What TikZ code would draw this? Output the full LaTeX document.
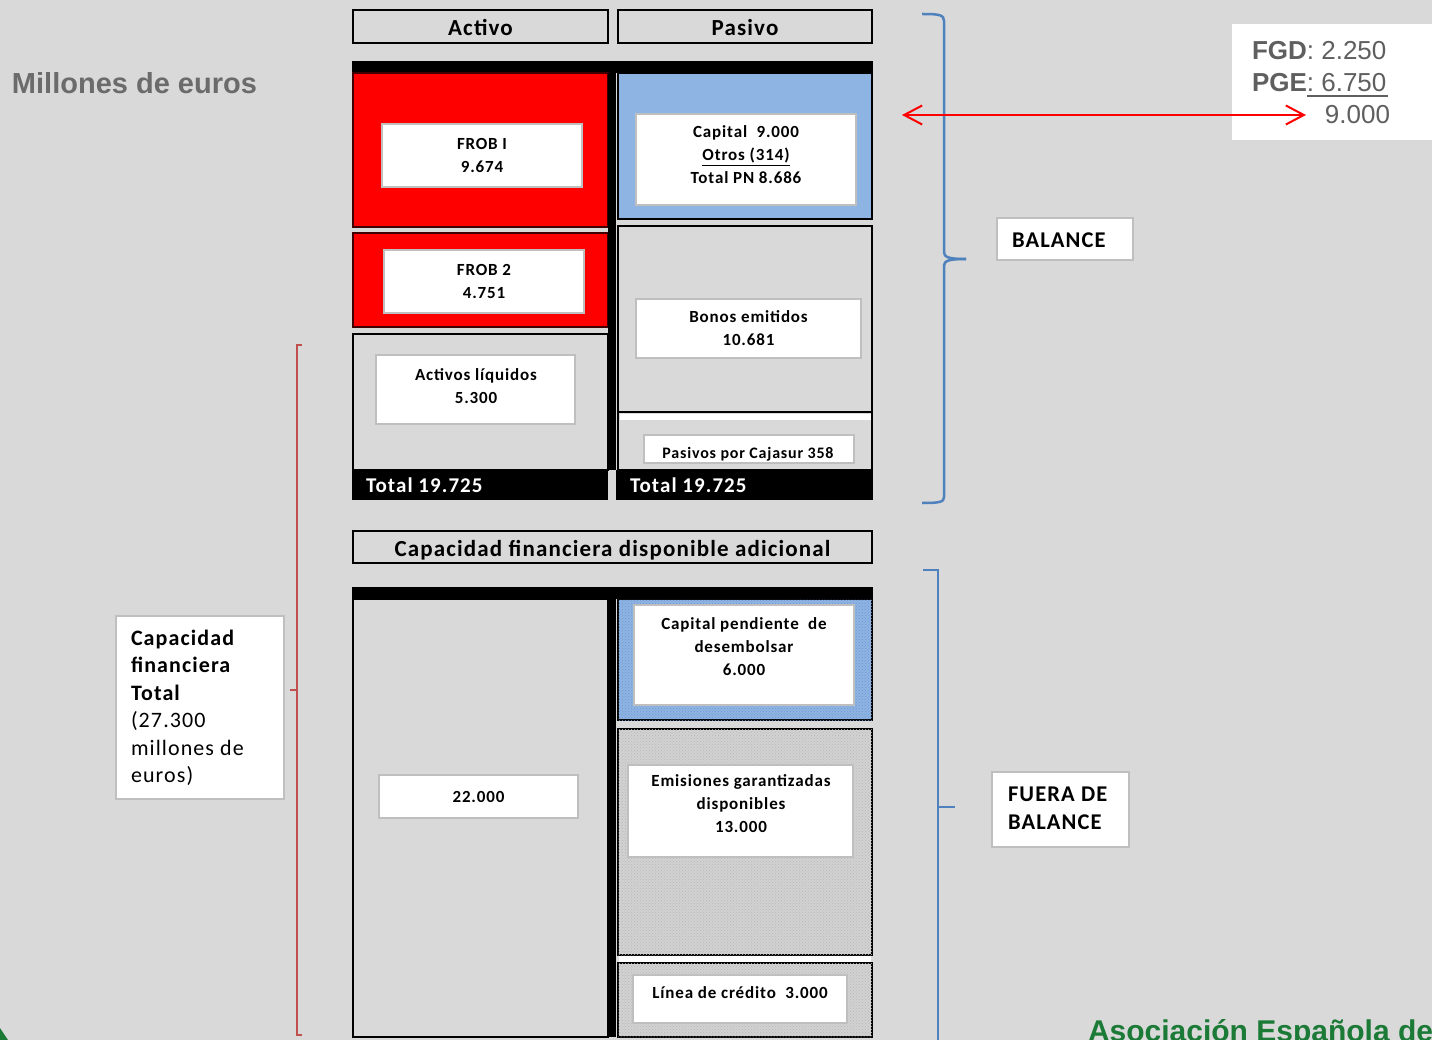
\documentclass[tikz,border=0pt]{standalone}
\usepackage{fontspec}
\setmainfont{Carlito}[LetterSpace=5]
\newfontfamily\arialf{Liberation Sans}
\usetikzlibrary{arrows.meta,patterns}
\definecolor{bg}{HTML}{D9D9D9}
\definecolor{redbox}{HTML}{FF0000}
\definecolor{bluebox}{HTML}{8DB4E2}
\definecolor{bluedot}{HTML}{6F97CF}
\definecolor{graypat}{HTML}{D2D2D2}
\definecolor{graydot}{HTML}{B8B8B8}
\definecolor{innerbd}{HTML}{BFBFBF}
\definecolor{bracketblue}{HTML}{4F81BD}
\definecolor{bracketred}{HTML}{C0504D}
\definecolor{grtxt}{HTML}{5F5F5F}
\definecolor{mgray}{HTML}{6B6B6B}
\definecolor{aegreen}{HTML}{1A7A36}
\newcommand\fs[2]{\fontsize{#1}{#2}\selectfont}
\newcommand\rbox[7]{\node[#6, minimum width={#4-#2}, minimum height={#5-#3}] (#1) at ({(#2+#4)/2},{(#3+#5)/2}) {#7};}
\begin{document}
\begin{tikzpicture}[x=1pt,y=-1pt,
  every node/.style={inner sep=0pt, outer sep=0pt},
  hdr/.style={draw=black, line width=2pt, fill=bg, font=\bfseries\fs{23}{27}, text height=21pt, text depth=2pt},
  graybox/.style={draw=black, line width=2pt, fill=bg},
  redfill/.style={draw=black!75!red, line width=1.5pt, fill=redbox},
  bluefill/.style={draw=black, line width=2pt, fill=bluebox},
  bluepat/.style={draw=black, line width=2pt, fill=bluebox, postaction={pattern=crosshatch dots, pattern color=bluedot}},
  graypatt/.style={draw=black, line width=2pt, fill=graypat, postaction={pattern=crosshatch dots, pattern color=graydot}},
  innerbox/.style={fill=white, draw=innerbd, line width=2pt},
  txt/.style={font=\bfseries\fs{17}{23}, align=center},
  totl/.style={font=\bfseries\fs{21}{25}, text=white, anchor=west},
  lbl/.style={font=\bfseries\fs{22.5}{28}, align=left, anchor=west},
  redarrow/.style={draw=red, line width=2pt, {Straight Barb[length=18pt,width=19pt]}-{Straight Barb[length=18pt,width=19pt]}},
  brblue/.style={draw=bracketblue, line width=2.5pt},
  brred/.style={draw=bracketred, line width=2.5pt},
  fgdtxt/.style={font=\arialf\fs{26}{30}, text=grtxt, anchor=base west}
]
\useasboundingbox (0,0) rectangle (1432,1040);
\clip (0,0) rectangle (1432,1040);
\fill[bg] (0,0) rectangle (1432,1040);

% headers
\rbox{act}{353}{10}{608}{43}{hdr}{Activo}
\rbox{pas}{618}{10}{872}{43}{hdr}{Pasivo}

% balance block
\fill[black] (352,61) rectangle (873,73);
\rbox{frobAbg}{353}{73}{608}{227}{redfill}{}
\rbox{frobA}{382}{124}{582}{187}{innerbox, txt}{FROB I\\9.674}
\rbox{pnbg}{618}{73}{872}{219}{bluefill}{}
\rbox{pn}{636}{114}{856}{205}{innerbox}{}
\node[txt] (pnt) at (746,155) {Capital~~9.000\\\underline{Otros (314)}\\Total PN 8.686};
\rbox{frobBbg}{353}{233}{608}{327}{redfill}{}
\rbox{frobB}{384}{250}{584}{313}{innerbox, txt}{FROB 2\\4.751}
\rbox{liqbg}{353}{334}{608}{470}{graybox}{}
\rbox{liq}{376}{355}{575}{424}{innerbox}{}
\node[txt] (liqt) at (476,386) {Activos líquidos\\5.300};
\rbox{bonbg}{618}{226}{872}{412}{graybox}{}
\rbox{bon}{636}{299}{861}{358}{innerbox, txt}{Bonos emitidos\\10.681};
\rbox{cjbg}{618}{412}{872}{470}{graybox}{}
\fill[white] (620,414) rectangle (871,420);
\rbox{cj}{644}{435}{854}{463}{innerbox}{}
\node[font=\bfseries\fs{16}{18}] (cjt) at (748,454) {Pasivos por Cajasur 358};
\fill[black] (608,73) rectangle (616,470);
\rbox{totL}{352}{470}{608}{500}{fill=black}{}
\rbox{totR}{616}{470}{873}{500}{fill=black}{}
\node[totl] at (366,485) {Total 19.725};
\node[totl] at (630,485) {Total 19.725};

% off-balance block
\rbox{cfd}{353}{531}{872}{563}{hdr}{Capacidad financiera disponible adicional}
\fill[black] (352,587) rectangle (873,599);
\rbox{fbl}{353}{599}{608}{1037}{graybox}{}
\rbox{vd}{379}{775}{578}{818}{innerbox, txt}{22.000}
\fill[black] (608,599) rectangle (616,1037);
\rbox{cpdbg}{618}{599}{872}{720}{bluepat}{}
\rbox{cpd}{634}{605}{854}{705}{innerbox}{}
\node[txt] (cpdt) at (744,647) {Capital pendiente~ de\\desembolsar\\6.000};
\rbox{emibg}{618}{729}{872}{955}{graypatt}{}
\rbox{emi}{628}{765}{853}{857}{innerbox}{}
\node[txt] (emit) at (741,804) {Emisiones garantizadas\\disponibles\\13.000};
\fill[white] (619,956) rectangle (871,962);
\rbox{lcbg}{618}{963}{872}{1037}{graypatt}{}
\rbox{lc}{633}{975}{847}{1023}{innerbox}{}
\node[txt] (lct) at (740,993) {Línea de crédito~ 3.000};

% left label
\node[font=\arialf\bfseries\fs{29}{32}, text=mgray, anchor=west] (mill) at (12,83) {Millones de euros};
\rbox{ctot}{116}{616}{284}{799}{innerbox}{}
\node[font=\fs{22}{27.5}, align=left, anchor=north west] (ctott) at (131,630)
  {\textbf{Capacidad}\\\textbf{financiera}\\\textbf{Total}\\(27.300\\millones de\\euros)};

% brackets
\draw[brred] (302,345) -- (297,345) -- (297,1035) -- (302,1035);
\draw[brred] (290,690) -- (297,690);
\draw[brblue] (922,14) .. controls (940,14) and (944,15) .. (944,21) -- (944,252) .. controls (944,257) and (948,259) .. (966,259);
\draw[brblue] (966,259) .. controls (948,259) and (944,261) .. (944,266) -- (944,497) .. controls (944,502) and (940,503) .. (922,503);
\draw[brblue] (923,570) -- (938,570) -- (938,1045);
\draw[brblue] (938,807) -- (955,807);

% right labels
\rbox{bal}{997}{218}{1133}{260}{innerbox}{}
\node[lbl] (balt) at (1012,240) {BALANCE};
\rbox{fdb}{992}{772}{1129}{847}{innerbox}{}
\node[lbl] (fdbt) at (1008,808) {FUERA DE\\BALANCE};

% FGD box
\rbox{fgd}{1232}{24}{1440}{140}{fill=white}{}
\node[fgdtxt] (fgdl) at (1252,60) {\textbf{FGD}: 2.250};
\node[fgdtxt] (pgel) at (1252,92) {\textbf{PGE}: 6.750};
\draw[grtxt, line width=2pt] (1307,96) -- (1388,96);
\node[font=\arialf\fs{26}{30}, text=grtxt, anchor=base east] (nine) at (1390,124) {9.000};
\coordinate (arrL) at (902,115);
\coordinate (arrR) at (1306,115);
\draw[redarrow] (arrL) -- (arrR);

% footer
\node[font=\arialf\bfseries\fs{30}{34}, text=aegreen, anchor=base west] (aeb) at (1088,1041) {Asociación Española de};
\fill[aegreen] (0,1028) -- (8,1040) -- (0,1040) -- cycle;
\end{tikzpicture}
\end{document}
